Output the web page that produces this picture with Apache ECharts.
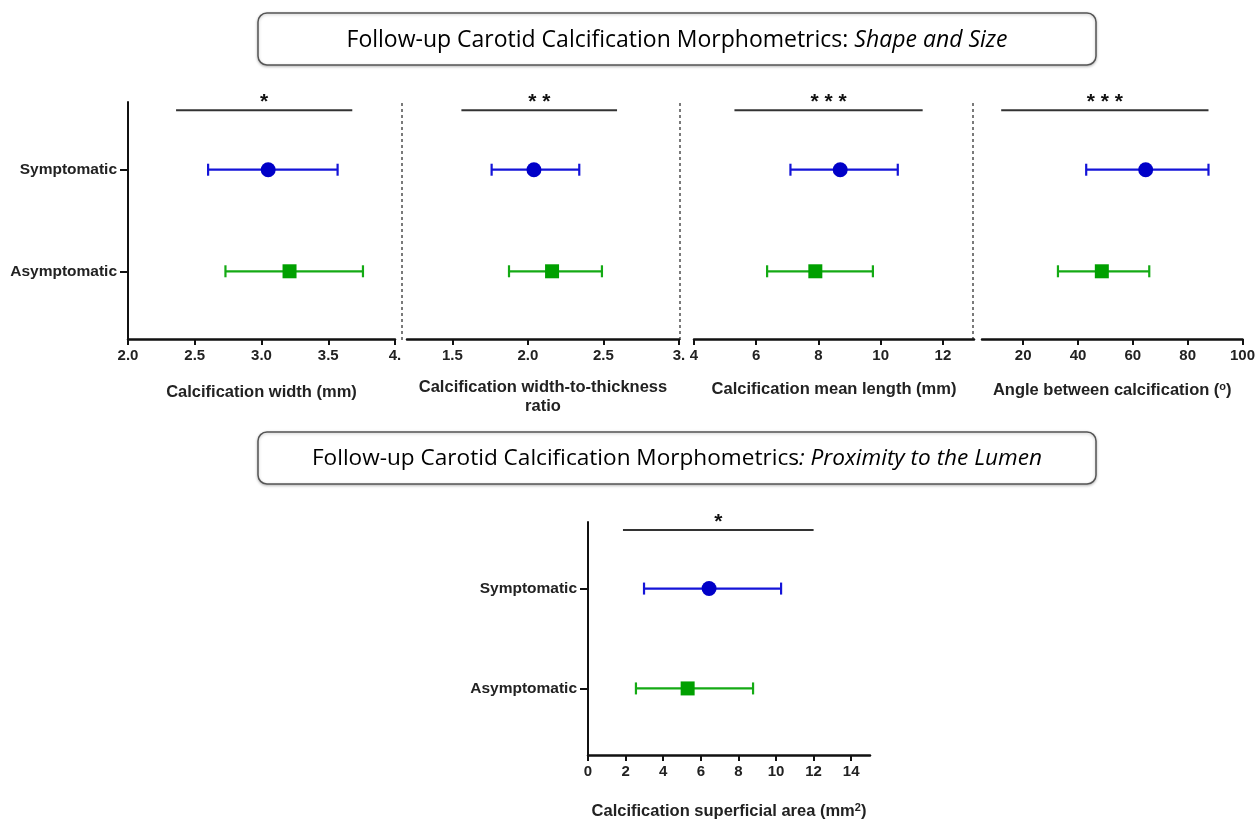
<!DOCTYPE html>
<html>
<head>
<meta charset="utf-8">
<title>Follow-up Carotid Calcification Morphometrics</title>
<script src="https://cdn.jsdelivr.net/npm/echarts@6/dist/echarts.min.js"></script>
<style>
    html, body { margin: 0; padding: 0; background: #fff; }
    #chart { width: 1258px; height: 822px; }
</style>
</head>
<body>
<div id="chart"></div>
<script>
//组别
var groupNames = ["Asymptomatic", "Symptomatic"];

//每组数据: [下限, 均值, 上限]
var widthSym = [2.60, 3.05, 3.57];
var widthAsym = [2.73, 3.21, 3.76];
var widthBar = [2.36, 3.68];

var ratioSym = [1.76, 2.04, 2.34];
var ratioAsym = [1.875, 2.16, 2.49];
var ratioBar = [1.56, 2.59];

var lengthSym = [7.1, 8.7, 10.55];
var lengthAsym = [6.35, 7.9, 9.75];
var lengthBar = [5.3, 11.35];

var angleSym = [43, 64.7, 87.6];
var angleAsym = [32.7, 48.7, 66];
var angleBar = [12, 87.6];

var areaSym = [2.98, 6.44, 10.27];
var areaAsym = [2.55, 5.3, 8.78];
var areaBar = [1.86, 12.0];

//显著性
var stars = ["*", "**", "***", "***", "*"];

//刻度
var widthTicks = [2, 2.5, 3, 3.5, 4];
var widthTickLabels = ["2.0", "2.5", "3.0", "3.5", "4."];
var ratioTicks = [1.5, 2, 2.5, 3];
var ratioTickLabels = ["1.5", "2.0", "2.5", "3."];
var lengthTicks = [4, 6, 8, 10, 12];
var angleTicks = [20, 40, 60, 80, 100];
var areaTicks = [0, 2, 4, 6, 8, 10, 12, 14];

//初始化图表实例
var chart = echarts.init(document.getElementById("chart"));

var FONT = "'Liberation Sans', Arial, sans-serif";
var BLUE = "#1414d8";
var BLUE_DOT = "#0000c8";
var GREEN = "#14aa14";
var GREEN_DOT = "#00a000";
var INK = "#222";
//纵轴位置 (Asymptomatic, Symptomatic) 和横线位置
var rowPos = [1, 2.5];
var barPos = 3.38;

var grids = [];
var xAxes = [];
var yAxes = [];
var series = [];

function errRender(params, api) {
    var y = api.value(2);
    var lo = api.coord([api.value(0), y]);
    var hi = api.coord([api.value(1), y]);
    var c = api.visual("color");
    var h = 6;
    var st = { stroke: c, lineWidth: 2.2 };
    return {
        type: "group",
        children: [
            { type: "line", shape: { x1: lo[0], y1: lo[1], x2: hi[0], y2: hi[1] }, style: st },
            { type: "line", shape: { x1: lo[0], y1: lo[1] - h, x2: lo[0], y2: lo[1] + h }, style: st },
            { type: "line", shape: { x1: hi[0], y1: hi[1] - h, x2: hi[0], y2: hi[1] + h }, style: st }
        ]
    };
}

function barRender(params, api) {
    var a = api.coord([api.value(0), api.value(2)]);
    var b = api.coord([api.value(1), api.value(2)]);
    var s = stars[api.value(3)].split("").join(" ");
    return {
        type: "group",
        children: [
            { type: "line", shape: { x1: a[0], y1: a[1], x2: b[0], y2: b[1] }, style: { stroke: "#333", lineWidth: 2 } },
            { type: "text", x: (a[0] + b[0]) / 2, y: a[1] - 8, style: {
                text: s, fill: "#111", font: "bold 21px " + FONT, align: "center", verticalAlign: "middle"
            } }
        ]
    };
}

function addPanel(i, box, xr, ticks, labels, name, nameGap, showY, sym, asym, bar) {
    grids.push({ left: box[0], top: box[1], width: box[2], height: box[3] });
    xAxes.push({
        type: "value", gridIndex: i, min: xr[0], max: xr[1],
        name: name, nameLocation: "middle", nameGap: nameGap,
        nameTextStyle: { fontFamily: FONT, fontWeight: "bold", fontSize: 16.5, color: INK, lineHeight: 19,
            rich: { sup: { fontFamily: FONT, fontWeight: "bold", fontSize: 11, color: INK, verticalAlign: "top", padding: [0, 0, 8, 0] } } },
        axisLine: { show: true, onZero: false, lineStyle: { color: "#111", width: 2.5 } },
        axisTick: { show: true, length: 6, customValues: ticks, lineStyle: { color: "#111", width: 2 } },
        axisLabel: {
            customValues: ticks, margin: 9, fontFamily: FONT, fontWeight: "bold", fontSize: 15, color: INK,
            formatter: function(v) {
                var k = ticks.indexOf(v);
                return labels && k >= 0 ? labels[k] : String(v);
            }
        },
        splitLine: { show: false }
    });
    yAxes.push({
        type: "value", gridIndex: i, min: 0, max: 3.5,
        axisLine: { show: showY, lineStyle: { color: "#111", width: 2 } },
        axisTick: { show: showY, length: 8, customValues: rowPos, lineStyle: { color: "#111", width: 2 } },
        axisLabel: {
            show: showY, customValues: rowPos, margin: 11, fontFamily: FONT, fontWeight: "bold", fontSize: 15.5, color: INK,
            formatter: function(v) { return groupNames[rowPos.indexOf(v)]; }
        },
        splitLine: { show: false }
    });
    series.push({
        type: "custom", xAxisIndex: i, yAxisIndex: i, renderItem: errRender,
        itemStyle: { color: BLUE }, encode: { x: [0, 1], y: 2 },
        data: [[sym[0], sym[2], rowPos[1]]], z: 2
    });
    series.push({
        type: "custom", xAxisIndex: i, yAxisIndex: i, renderItem: errRender,
        itemStyle: { color: GREEN }, encode: { x: [0, 1], y: 2 },
        data: [[asym[0], asym[2], rowPos[0]]], z: 2
    });
    series.push({
        type: "scatter", xAxisIndex: i, yAxisIndex: i, symbol: "circle", symbolSize: 15,
        itemStyle: { color: BLUE_DOT, opacity: 1 }, data: [[sym[1], rowPos[1]]], z: 3
    });
    series.push({
        type: "scatter", xAxisIndex: i, yAxisIndex: i, symbol: "rect", symbolSize: 14,
        itemStyle: { color: GREEN_DOT, opacity: 1 }, data: [[asym[1], rowPos[0]]], z: 3
    });
    series.push({
        type: "custom", xAxisIndex: i, yAxisIndex: i, renderItem: barRender, clip: false,
        encode: { x: [0, 1], y: 2 },
        data: [[bar[0], bar[1], barPos, i]], z: 2
    });
}

addPanel(0, [128, 102, 267, 237], [2, 4], widthTicks, widthTickLabels, "Calcification width (mm)", 44, true, widthSym, widthAsym, widthBar);
addPanel(1, [407, 102, 272, 237], [1.2, 3], ratioTicks, ratioTickLabels, "Calcification width-to-thickness\nratio", 39, false, ratioSym, ratioAsym, ratioBar);
addPanel(2, [694, 102, 280, 237], [4, 13], lengthTicks, null, "Calcification mean length (mm)", 41, false, lengthSym, lengthAsym, lengthBar);
addPanel(3, [982, 102, 262, 237], [5, 100], angleTicks, null, "Angle between calcification ({sup|o})", 42, false, angleSym, angleAsym, angleBar);
addPanel(4, [588, 522, 282, 234], [0, 15], areaTicks, null, "Calcification superficial area (mm{sup|2})", 47, true, areaSym, areaAsym, areaBar);

var TFONT = "'Open Sans', 'Noto Sans', sans-serif";

function titleBox(y, plain, italic, size) {
    return {
        type: "group",
        children: [
            { type: "rect", shape: { x: 258, y: y, width: 838, height: 52, r: 9 },
              style: { fill: "#fff", stroke: "#555", lineWidth: 1.5, shadowColor: "rgba(0,0,0,0.25)", shadowBlur: 3, shadowOffsetY: 1 } },
            { type: "text", x: 677, y: y + 27, style: {
                text: "{n|" + plain + "}{i|" + italic + "}",
                align: "center", verticalAlign: "middle",
                rich: {
                    n: { fontFamily: TFONT, fontSize: size, color: "#1a1a1a" },
                    i: { fontFamily: TFONT, fontSize: size, fontStyle: "italic", color: "#1a1a1a" }
                }
            } }
        ]
    };
}

//分隔虚线
function dotted(x, y1, y2) {
    return { type: "line", shape: { x1: x, y1: y1, x2: x, y2: y2 },
        style: { stroke: "#333", lineWidth: 1.3, lineDash: [3, 3] } };
}

//图表配置项
var option = {
    backgroundColor: "#fff",
    animation: false,
    grid: grids,
    xAxis: xAxes,
    yAxis: yAxes,
    series: series,
    graphic: [
        titleBox(13, "Follow-up Carotid Calcification Morphometrics: ", "Shape and Size", 23),
        titleBox(432, "Follow-up Carotid Calcification Morphometrics", ": Proximity to the Lumen", 22.6),
        dotted(402, 103, 340),
        dotted(680, 103, 343),
        dotted(973, 103, 343)
    ]
};

//使用以上配置项配置图表
chart.setOption(option);
</script>
</body>
</html>
